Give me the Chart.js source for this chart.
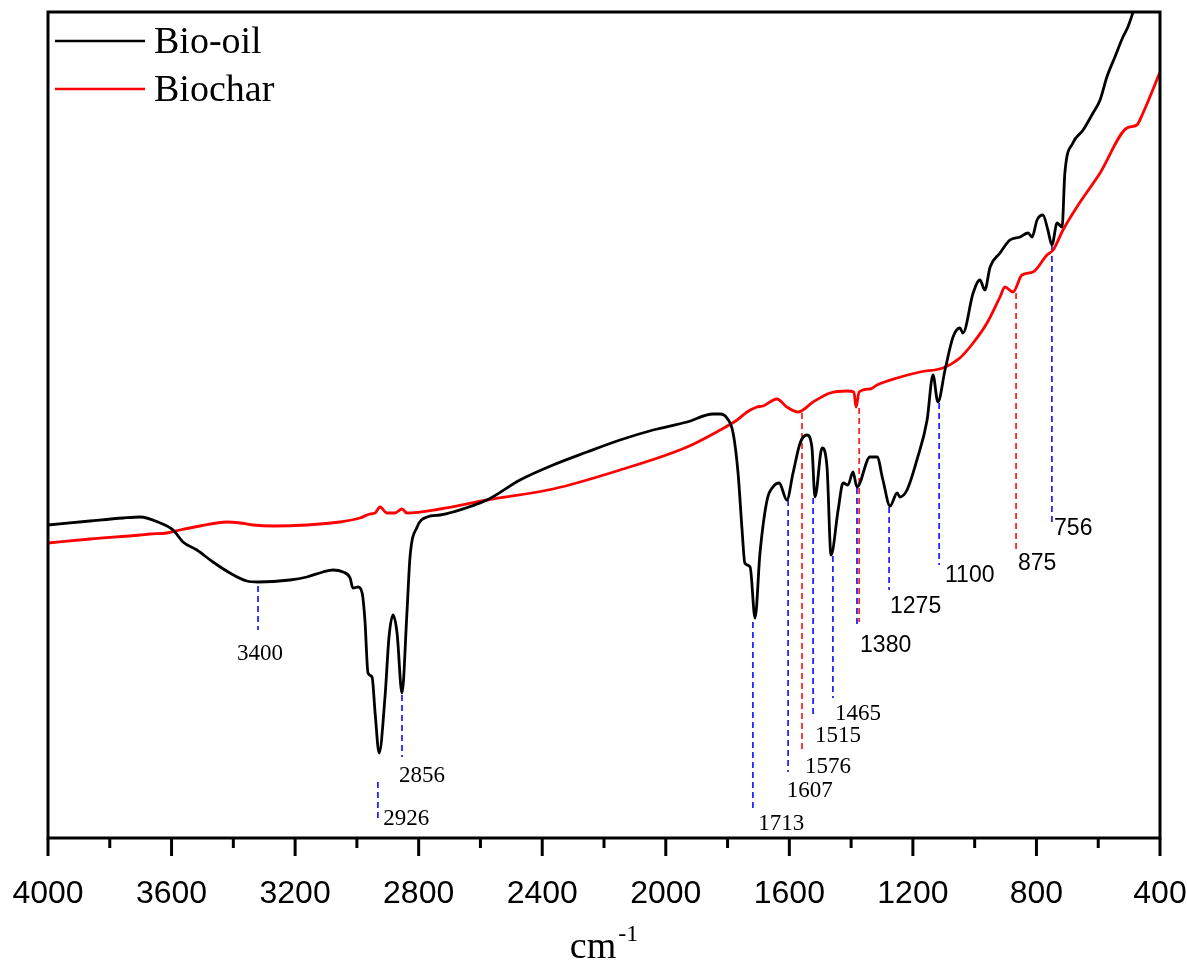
<!DOCTYPE html>
<html>
<head>
<meta charset="utf-8">
<title>FTIR spectra of bio-oil and biochar</title>
<script src="https://cdn.jsdelivr.net/npm/chart.js@4.4.0/dist/chart.umd.min.js"></script>
<style>
  html, body { margin: 0; padding: 0; background: #fff; }
  #wrap { width: 1187px; height: 964px; }
</style>
</head>
<body>
<div id="wrap"><canvas id="ftir" width="1187" height="964"></canvas></div>
<script>
// ==============================
// SPECTRA (wavenumber in cm-1, signal in arbitrary units)
// ==============================
const bioOilWavenumber = [
    4000, 3864, 3757, 3702, 3637, 3595, 3563, 3518, 3466, 3411,
    3356, 3320, 3217, 3162, 3110, 3077, 3045, 3022, 3013, 2996,
    2983, 2974, 2964, 2951, 2941, 2928, 2909, 2896, 2883, 2870,
    2854, 2838, 2828, 2805, 2773, 2731, 2689, 2579, 2472, 2365,
    2255, 2148, 2041, 1931, 1847, 1824, 1802, 1782, 1766, 1753,
    1744, 1727, 1711, 1695, 1672, 1653, 1633, 1608, 1588, 1565,
    1543, 1527, 1517, 1494, 1478, 1465, 1442, 1426, 1410, 1394,
    1381, 1339, 1316, 1297, 1274, 1251, 1242, 1219, 1187, 1154,
    1135, 1119, 1096, 1070, 1048, 1038, 1005, 983, 967, 950,
    918, 886, 853, 827, 814, 798, 779, 763, 750, 733,
    717, 708, 682, 649, 617, 594, 572, 546, 520, 504,
    487, 449, 400
];
const bioOilSignal = [
    313, 317, 320, 321, 315, 308, 296, 288, 276, 265,
    257, 256, 258, 261, 266, 268, 266, 260, 250, 251,
    245, 218, 165, 161, 125, 85, 141, 201, 223, 205,
    145, 225, 281, 311, 321, 323, 326, 338, 358, 373,
    386, 398, 408, 416, 424, 424, 420, 405, 365, 308,
    275, 271, 220, 285, 338, 351, 355, 338, 365, 395,
    403, 391, 341, 390, 371, 283, 328, 355, 353, 366,
    351, 381, 381, 358, 332, 345, 341, 348, 378, 418,
    463, 436, 468, 501, 510, 505, 545, 558, 548, 571,
    585, 598, 601, 605, 601, 618, 623, 608, 593, 615,
    611, 665, 695, 708, 725, 738, 761, 781, 801, 811,
    826, 863, 908
];

const biocharWavenumber = [
    4000, 3864, 3702, 3670, 3615, 3573, 3508, 3421, 3378, 3336,
    3272, 3162, 3055, 2990, 2958, 2941, 2925, 2903, 2877, 2854,
    2838, 2731, 2579, 2365, 2148, 1931, 1824, 1769, 1737, 1705,
    1685, 1640, 1608, 1572, 1523, 1468, 1413, 1391, 1384, 1374,
    1339, 1316, 1251, 1177, 1103, 1048, 1005, 960, 918, 902,
    876, 847, 811, 766, 746, 714, 669, 594, 507, 475,
    455, 400
];
const biocharSignal = [
    295, 299, 303, 304, 305, 308, 312, 316, 315, 313,
    312, 313, 316, 320, 324, 325, 331, 325, 325, 329,
    325, 329, 338, 349, 368, 391, 408, 418, 426, 431,
    432, 439, 431, 426, 436, 445, 447, 446, 431, 446,
    449, 453, 460, 466, 470, 480, 495, 515, 541, 551,
    546, 563, 566, 583, 588, 608, 631, 665, 710, 713,
    725, 766
];

// peak marker lines: position, top and bottom of the dashed drop line, which spectrum
const markerWavenumber = [3320, 2932, 2854, 1718, 1604, 1559, 1523, 1459, 1381, 1374, 1277, 1115, 866, 750];
const markerTop        = [252,  56,   143,  216,  338,  425,  340,  282,  350,  430,  331,  435,  545, 592];
const markerBottom     = [208,  16,   81,   30,   66,   86,   121,  140,  211,  216,  248,  273,  286, 316];
const markerSeries     = ["oil", "oil", "oil", "oil", "oil", "char", "oil", "oil", "oil", "char", "oil", "oil", "char", "oil"];

// peak labels
const peakText       = ["3400", "2926", "2856", "1713", "1607", "1576", "1515", "1465", "1380", "1275", "1100", "875", "756"];
const peakWavenumber = [3388, 2915, 2864, 1701, 1608, 1549, 1517, 1452, 1371, 1274, 1096, 860, 743];
const peakSignal     = [178, 13, 56, 8, 41, 65, 96, 118, 186, 225, 256, 268, 303];
const peakFace       = ["serif", "serif", "serif", "serif", "serif", "serif", "serif", "serif", "sans", "sans", "sans", "sans", "sans"];

const xTicks = [4000, 3600, 3200, 2800, 2400, 2000, 1600, 1200, 800, 400];

const seriesNames = ["Bio-oil", "Biochar"];

// ==============================
// STYLE
// ==============================
const SERIF = "'Liberation Serif', 'Times New Roman', serif";
const SANS = "'Liberation Sans', Arial, sans-serif";
const MARK_COLOR = { oil: "#2424ff", char: "#ff2424" };

function toPoints(xs, ys) {
    return xs.map((x, i) => ({ x: x, y: ys[i] }));
}

const curveSets = [
    {
        label: seriesNames[0],
        data: toPoints(bioOilWavenumber, bioOilSignal),
        borderColor: "#000000",
        borderWidth: 2.8,
        pointRadius: 0,
        cubicInterpolationMode: "monotone",
        clip: 0
    },
    {
        label: seriesNames[1],
        data: toPoints(biocharWavenumber, biocharSignal),
        borderColor: "#ff0000",
        borderWidth: 2.8,
        pointRadius: 0,
        cubicInterpolationMode: "monotone",
        clip: 0
    }
];

const markerSets = markerWavenumber.map((w, i) => ({
    label: "marker",
    data: [{ x: w, y: markerTop[i] }, { x: w, y: markerBottom[i] }],
    borderColor: MARK_COLOR[markerSeries[i]],
    borderWidth: 1.8,
    borderDash: [6, 4],
    pointRadius: 0
}));

// ==============================
// DECORATION PLUGIN
// ==============================
const decor = {
    id: "decor",
    afterDraw(chart) {
        const { ctx, chartArea: a, scales } = chart;
        const x = scales.x, y = scales.y;
        ctx.save();

        // frame and tick marks
        ctx.strokeStyle = "#000";
        ctx.lineWidth = 3;
        ctx.strokeRect(a.left, a.top, a.right - a.left, a.bottom - a.top);
        for (let v = x.min; v <= x.max; v += 200) {
            const px = x.getPixelForValue(v);
            const len = v % 400 === 0 ? 18 : 10;
            ctx.beginPath();
            ctx.moveTo(px, a.bottom);
            ctx.lineTo(px, a.bottom + len);
            ctx.stroke();
        }

        // peak labels
        ctx.fillStyle = "#000";
        ctx.textAlign = "left";
        ctx.textBaseline = "alphabetic";
        peakText.forEach((t, i) => {
            ctx.font = peakFace[i] === "serif" ? "23px " + SERIF : "23px " + SANS;
            ctx.fillText(t, x.getPixelForValue(peakWavenumber[i]), y.getPixelForValue(peakSignal[i]));
        });

        // legend
        const colors = ["#000000", "#ff0000"];
        seriesNames.forEach((name, i) => {
            const ly = a.top + 29 + i * 48;
            ctx.strokeStyle = colors[i];
            ctx.lineWidth = 2.6;
            ctx.beginPath();
            ctx.moveTo(a.left + 7, ly);
            ctx.lineTo(a.left + 97, ly);
            ctx.stroke();
            ctx.font = "38px " + SERIF;
            ctx.fillText(name, a.left + 106, ly + 12);
        });

        // axis title cm^-1
        ctx.font = "38px " + SERIF;
        const wMain = ctx.measureText("cm").width;
        ctx.font = "24px " + SERIF;
        const wSup = ctx.measureText("-1").width;
        const cx = (a.left + a.right) / 2;
        const sx = cx - (wMain + wSup + 2) / 2;
        ctx.font = "38px " + SERIF;
        ctx.fillText("cm", sx, 958);
        ctx.font = "24px " + SERIF;
        ctx.fillText("-1", sx + wMain + 2, 941);

        ctx.restore();
    }
};

// ==============================
// CHART
// ==============================
document.addEventListener("DOMContentLoaded", () => {
    new Chart(document.getElementById("ftir"), {
        type: "line",
        data: { datasets: [...curveSets, ...markerSets] },
        options: {
            responsive: false,
            animation: false,
            events: [],
            layout: { padding: { left: 48, right: 27, top: 12, bottom: 0 } },
            plugins: {
                legend: { display: false },
                tooltip: { enabled: false }
            },
            scales: {
                x: {
                    type: "linear",
                    reverse: true,
                    min: 400,
                    max: 4000,
                    afterBuildTicks: s => { s.ticks = xTicks.map(v => ({ value: v })); },
                    afterFit: s => { s.height = 126; s.paddingLeft = 0; s.paddingRight = 0; },
                    grid: { display: false },
                    border: { display: false },
                    ticks: {
                        color: "#000",
                        font: { family: SANS, size: 32 },
                        padding: 29,
                        maxRotation: 0,
                        autoSkip: false,
                        callback: v => String(v)
                    }
                },
                y: {
                    display: false,
                    min: 0,
                    max: 826
                }
            }
        },
        plugins: [decor]
    });
});
</script>
</body>
</html>
